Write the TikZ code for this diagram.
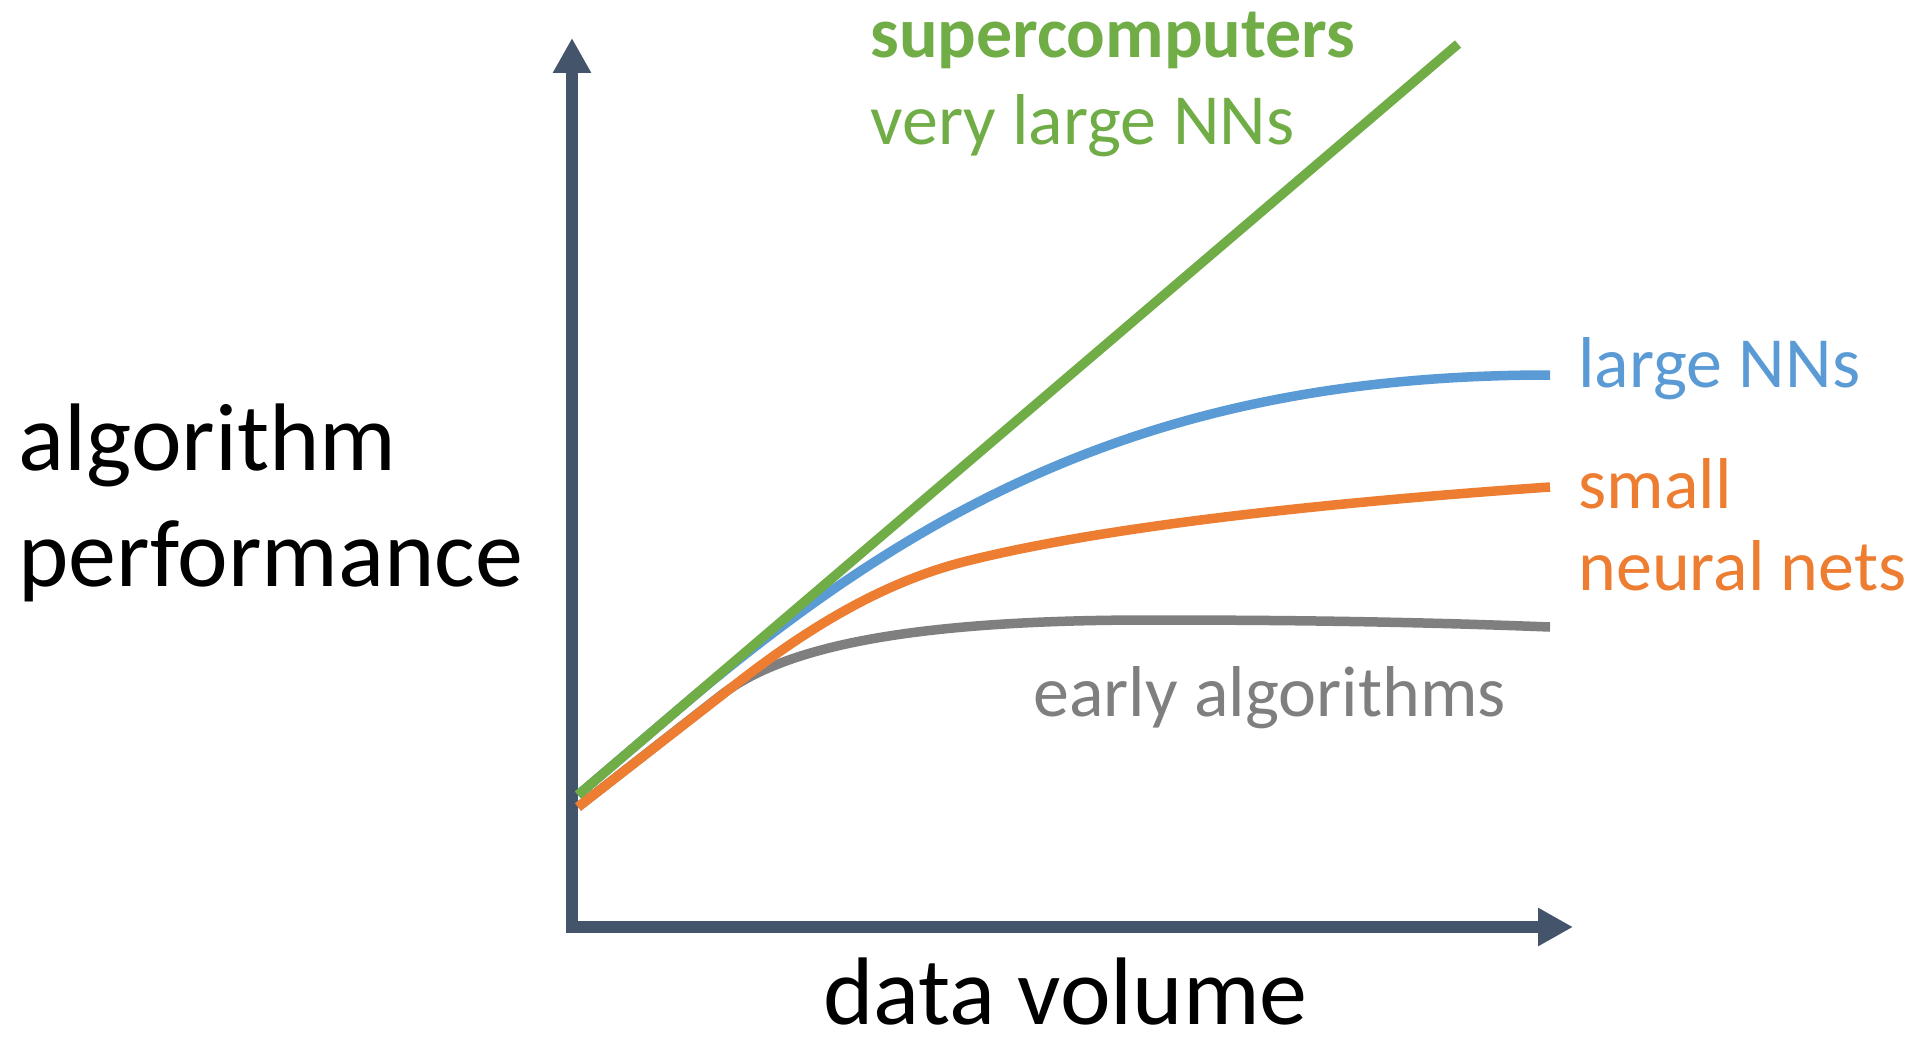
\documentclass[tikz,border=0pt]{standalone}
\usepackage{fontspec}
\setmainfont{Carlito}
\usetikzlibrary{arrows.meta}
\definecolor{axiscol}{HTML}{44546A}
\definecolor{cgreen}{HTML}{70AD47}
\definecolor{cblue}{HTML}{5B9BD5}
\definecolor{corange}{HTML}{ED7D31}
\definecolor{cgray}{HTML}{7F7F7F}
\tikzset{axistip/.tip={Triangle[length=17.5pt,width=18pt]}}
\begin{document}
\begin{tikzpicture}[x={(0.5pt,0)}, y={(0,-0.5pt)},
  curve/.style={line width=4.75pt, line cap=butt, line join=round},
  lbl/.style={anchor=base west, inner sep=0pt, font=\fontsize{36}{43}\selectfont},
  big/.style={anchor=base west, inner sep=0pt, font=\fontsize{48}{58}\selectfont}]
\useasboundingbox (0,0) rectangle (1921,1038);
\fill[white] (0,0) rectangle (1921,1038);
\coordinate (ytop) at (572,38);
\coordinate (orig) at (572,927);
\coordinate (xend) at (1573,927);
\draw[axiscol, line width=6pt, line join=miter, axistip-axistip] (ytop) -- (orig) -- (xend);
% curve end points
\coordinate (lowstart) at (578,807);
\coordinate (gstart) at (578,795);
\coordinate (gend) at (1458,44);
\coordinate (grayend) at (1550,627);
\coordinate (blueend) at (1550,375);
\coordinate (orangeend) at (1550,487);
% curves
\draw[curve, cgray] (lowstart) -- (720,696)
  .. controls (780,649) and (900,620) .. (1150,620)
  .. controls (1300,620) and (1420,622) .. (grayend);
\draw[curve, cblue] (gstart) -- (680,708)
  .. controls (930,495) and (1170,375) .. (blueend);
\draw[curve, corange] (lowstart) -- (740,681)
  .. controls (825,615) and (897,578.5) .. (967,561)
  .. controls (1117,523.5) and (1350,501) .. (orangeend);
\draw[curve, cgreen] (gstart) -- (gend);
% labels
\node[lbl, cgreen, font=\fontsize{36}{43}\selectfont\bfseries] (super) at (870,58) {supercomputers};
\node[lbl, cgreen] (vlarge) at (870,145) {very large NNs};
\node[lbl, cblue] (large) at (1578,387) {large NNs};
\node[lbl, corange] (small) at (1578,508) {small};
\node[lbl, corange] (neural) at (1578,590) {neural nets};
\node[lbl, cgray] (early) at (1033,716) {early algorithms};
\node[big] (alg) at (18,470) {algorithm};
\node[big] (perf) at (18,586) {performance};
\node[big, text depth=0pt] (data) at (823,1024) {data volume};
\end{tikzpicture}
\end{document}
